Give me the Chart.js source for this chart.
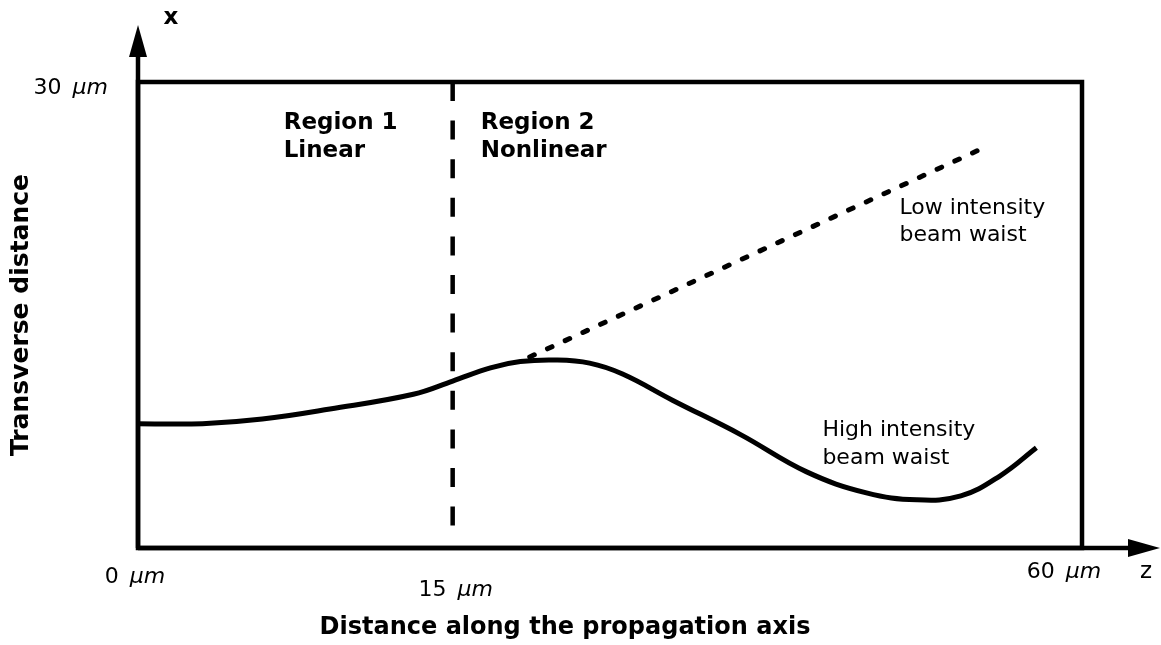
<!DOCTYPE html>
<html>
<head>
<meta charset="utf-8">
<title>Beam waist along the propagation axis</title>
<script src="https://cdn.jsdelivr.net/npm/chart.js@4.4.1/dist/chart.umd.min.js"></script>
<style>
  body { margin: 0; background: #fff; }
  #chart { display: block; }
</style>
</head>
<body>
<canvas id="chart" width="1161" height="645"></canvas>
<script>
// Schematic, not to scale: z is the drawn position along the axis (0..60),
// the 15 µm boundary sits at z = 20 in the original sketch
const zPos = [0, 4.1, 7.9, 12.2, 17.5, 20.0, 22.4, 24.3, 26.5, 28.7, 30.8, 34.0, 38.3, 42.5, 46.3, 49.5, 52.3, 54.8, 57.1];
const highWaist = [8.0, 8.0, 8.3, 8.95, 9.9, 10.75, 11.6, 12.0, 12.1, 11.9, 11.2, 9.5, 7.3, 4.9, 3.55, 3.1, 3.35, 4.65, 6.45];

const lowZ = [24.9, 53.4];
const lowWaist = [12.3, 25.6];

const boundaryZ = [20, 20];
const boundaryX = [30, 1.2];

const xTickPos = [0, 20, 60];
const xTickLabels = ['0', '15', '60'];
const yTickPos = [30];
const yTickLabels = ['30'];

const FONT = '"DejaVu Sans", Verdana, sans-serif';

function toPoints(xs, ys) {
    return xs.map((v, i) => ({ x: v, y: ys[i] }));
}

// draws "30 µm" with the unit in italics
function drawMicron(ctx, num, px, py, align) {
    ctx.font = '22px ' + FONT;
    const w1 = ctx.measureText(num + ' ').width + 4;
    ctx.font = 'italic 22px ' + FONT;
    const w2 = ctx.measureText('µm').width;
    let left = px;
    if (align === 'right') left = px - w1 - w2;
    if (align === 'center') left = px - (w1 + w2) / 2;
    ctx.textAlign = 'left';
    ctx.textBaseline = 'middle';
    ctx.font = '22px ' + FONT;
    ctx.fillText(num, left, py);
    ctx.font = 'italic 22px ' + FONT;
    ctx.fillText('µm', left + w1, py);
}

const schematicPlugin = {
    id: 'schematic',
    afterDatasetsDraw(chart) {
        const ctx = chart.ctx;
        const a = chart.chartArea;
        const xs = chart.scales.x;
        const ys = chart.scales.y;
        ctx.save();
        ctx.strokeStyle = '#000';
        ctx.fillStyle = '#000';

        // frame
        ctx.lineWidth = 4.5;
        ctx.strokeRect(a.left, a.top, a.right - a.left, a.bottom - a.top);

        // axes with arrow heads
        ctx.beginPath();
        ctx.moveTo(a.left, a.bottom);
        ctx.lineTo(a.left, a.top - 30);
        ctx.moveTo(a.left, a.bottom);
        ctx.lineTo(a.right + 50, a.bottom);
        ctx.stroke();

        ctx.beginPath();
        ctx.moveTo(a.left, a.top - 57);
        ctx.lineTo(a.left - 9, a.top - 25);
        ctx.lineTo(a.left + 9, a.top - 25);
        ctx.closePath();
        ctx.fill();

        ctx.beginPath();
        ctx.moveTo(a.right + 78, a.bottom);
        ctx.lineTo(a.right + 46, a.bottom - 9);
        ctx.lineTo(a.right + 46, a.bottom + 9);
        ctx.closePath();
        ctx.fill();

        // tick labels
        const xOffsets = [{ dx: -3, dy: 29 }, { dx: 3, dy: 42 }, { dx: -18, dy: 24 }];
        xTickPos.forEach((v, i) => {
            drawMicron(ctx, xTickLabels[i], xs.getPixelForValue(v) + xOffsets[i].dx,
                a.bottom + xOffsets[i].dy, 'center');
        });
        yTickPos.forEach((v, i) => {
            drawMicron(ctx, yTickLabels[i], a.left - 30, ys.getPixelForValue(v) + 6, 'right');
        });

        // axis letters
        ctx.textBaseline = 'middle';
        ctx.textAlign = 'center';
        ctx.font = 'bold 23px ' + FONT;
        ctx.fillText('x', a.left + 33, a.top - 64);
        ctx.font = '23px ' + FONT;
        ctx.fillText('z', a.right + 64, a.bottom + 24);

        // axis titles
        ctx.font = 'bold 24px ' + FONT;
        ctx.fillText('Distance along the propagation axis', 565, a.bottom + 80);
        ctx.save();
        ctx.translate(21, (a.top + a.bottom) / 2);
        ctx.rotate(-Math.PI / 2);
        ctx.font = 'bold 25px ' + FONT;
        ctx.fillText('Transverse distance', 0, 0);
        ctx.restore();

        // region captions
        ctx.font = 'bold 23px ' + FONT;
        ctx.textAlign = 'left';
        const bx = xs.getPixelForValue(boundaryZ[0]);
        ctx.fillText('Region 1', bx - 169, a.top + 41);
        ctx.fillText('Linear', bx - 169, a.top + 69);
        ctx.fillText('Region 2', bx + 28, a.top + 41);
        ctx.fillText('Nonlinear', bx + 28, a.top + 69);

        // curve captions
        ctx.font = '22px ' + FONT;
        ctx.fillText('Low intensity', xs.getPixelForValue(48.4), ys.getPixelForValue(21.9));
        ctx.fillText('beam waist', xs.getPixelForValue(48.4), ys.getPixelForValue(20.1));
        ctx.fillText('High intensity', xs.getPixelForValue(43.5), ys.getPixelForValue(7.6));
        ctx.fillText('beam waist', xs.getPixelForValue(43.5), ys.getPixelForValue(5.8));

        ctx.restore();
    }
};

new Chart(document.getElementById('chart'), {
    type: 'line',
    data: {
        datasets: [
            {
                label: 'High intensity beam waist',
                data: toPoints(zPos, highWaist),
                borderColor: '#000',
                borderWidth: 5,
                pointRadius: 0,
                tension: 0.4,
                fill: false
            },
            {
                label: 'Low intensity beam waist',
                data: toPoints(lowZ, lowWaist),
                borderColor: '#000',
                borderWidth: 5,
                borderDash: [5, 14.5],
                borderCapStyle: 'round',
                pointRadius: 0,
                fill: false
            },
            {
                label: 'Region boundary',
                data: toPoints(boundaryZ, boundaryX),
                borderColor: '#000',
                borderWidth: 4.5,
                borderDash: [19, 19.6],
                pointRadius: 0,
                fill: false
            }
        ]
    },
    options: {
        responsive: false,
        animation: false,
        layout: {
            padding: { left: 138, right: 79, top: 82, bottom: 97 }
        },
        scales: {
            x: { type: 'linear', min: 0, max: 60, display: false },
            y: { type: 'linear', min: 0, max: 30, display: false }
        },
        plugins: {
            legend: { display: false },
            tooltip: { enabled: false }
        }
    },
    plugins: [schematicPlugin]
});
</script>
</body>
</html>
